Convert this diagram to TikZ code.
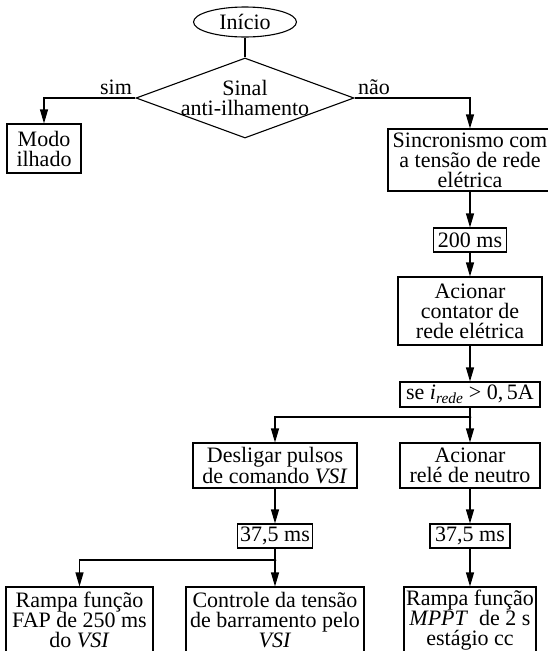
\documentclass[tikz,border=0pt]{standalone}
\usepackage{fontspec}
\setmainfont{Liberation Serif}
\usetikzlibrary{arrows.meta,shapes.geometric}

\begin{document}
\begin{tikzpicture}[>={Triangle[length=14pt,width=8pt]},x=1pt,y=-1pt,line width=1.1pt,
  font=\fontsize{22}{20}\selectfont,
  every node/.style={align=center},
  blk/.style={draw,inner sep=2pt,minimum height=24pt},
  lbl/.style={inner sep=3pt},
  term/.style={draw,ellipse,inner sep=0pt,minimum width=103pt,minimum height=30pt},
  decis/.style={draw,diamond,aspect=2.725,inner sep=-4pt,minimum width=218pt,minimum height=80pt}]
  \useasboundingbox (0,0) rectangle (548,651);
  \node[term] (inicio) at (245,22) {Início};
  \node[decis] (sinal) at (245,98) {Sinal\\anti-ilhamento};
  \node[lbl,above left] (sim) at (sinal.west) {sim};
  \node[lbl,above right] (nao) at (sinal.east) {não};
  \node[blk,minimum width=74pt,minimum height=49pt] (modo) at (44,148.5) {Modo\\ilhado};
  \node[blk,minimum width=164pt,minimum height=62pt] (sincr) at (470,160) {Sincronismo com\\a tensão de rede\\elétrica};
  \node[blk,minimum width=73pt] (t200) at (470,240) {200 ms};
  \node[blk,minimum width=144pt,minimum height=68pt] (contator) at (470,311) {Acionar\\contator de\\rede elétrica};
  \node[blk,minimum width=140pt,minimum height=25pt] (irede) at (470,394.5) {se \textit{i}\textsubscript{\textit{rede}} > 0,\,5A};
  \node[blk,minimum width=164pt,minimum height=45pt] (pulsos) at (275,465.5) {Desligar pulsos\\de comando \textit{VSI}};
  \node[blk,minimum width=140pt,minimum height=45pt] (neutro) at (470,465.5) {Acionar\\relé de neutro};
  \node[blk,minimum width=75pt] (espera1) at (275,536) {37,5 ms};
  \node[blk,minimum width=80pt] (espera2) at (470,536) {37,5 ms};
  \node[blk,minimum width=147pt,minimum height=66pt] (fap) at (79.5,620) {Rampa função\\FAP de 250 ms\\do \textit{VSI}};
  \node[blk,minimum width=178pt,minimum height=66pt] (barr) at (275,620) {Controle da tensão\\de barramento pelo\\\textit{VSI}};
  \node[blk,minimum width=132pt,minimum height=66pt] (mppt) at (470,620) {Rampa função\\\textit{MPPT}\ \ de 2 s\\estágio cc};
  \coordinate (j1) at (470,417);
  \coordinate (j2) at (275,560);

  \draw (inicio.south) -- (sinal.north);
  \draw[->] (sinal.west) -| (modo.north);
  \draw[->] (sinal.east) -| (sincr.north);
  \draw[->] (sincr) -- (t200);
  \draw[->] (t200) -- (contator);
  \draw[->] (contator) -- (irede);
  \draw (irede) -- (j1);
  \draw[->] (j1) -| (pulsos.north);
  \draw[->] (j1) -- (neutro);
  \draw[->] (pulsos) -- (espera1);
  \draw[->] (neutro) -- (espera2);
  \draw (espera1) -- (j2);
  \draw[->] (j2) -| (fap.north);
  \draw[->] (j2) -- (barr);
  \draw[->] (espera2) -- (mppt);
  \fill (j1) circle (1.5) (j2) circle (1.5);
\end{tikzpicture}
\end{document}
